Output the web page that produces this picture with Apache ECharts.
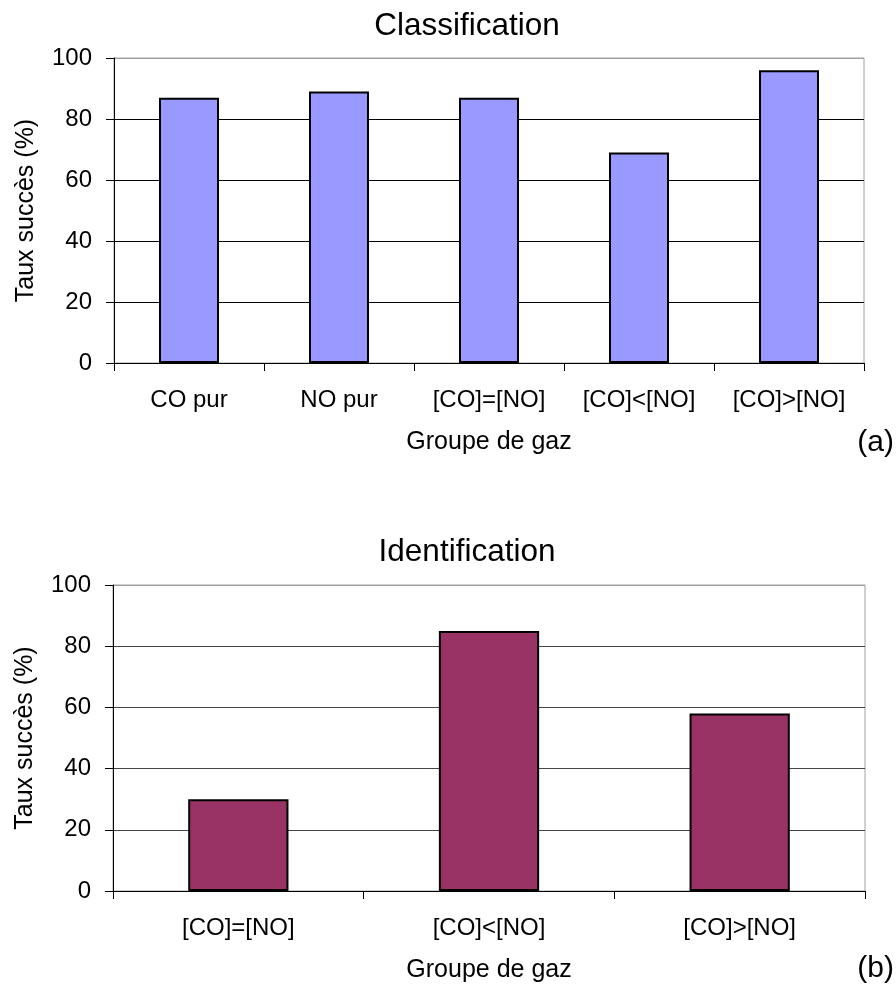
<!DOCTYPE html>
<html>
<head>
<meta charset="utf-8">
<script src="https://cdn.jsdelivr.net/npm/echarts@6/dist/echarts.min.js"></script>
<style>
html,body{margin:0;padding:0;background:#fff;}
#chart{width:896px;height:990px;}
</style>
</head>
<body>
<div id="chart"></div>
<script>
// Data
var categoriesA = ['CO pur', 'NO pur', '[CO]=[NO]', '[CO]<[NO]', '[CO]>[NO]'];
var valuesA = [87, 89, 87, 69, 96];
var categoriesB = ['[CO]=[NO]', '[CO]<[NO]', '[CO]>[NO]'];
var valuesB = [30, 85, 58];
var yTicks = [0, 20, 40, 60, 80, 100];
var titleA = 'Classification';
var titleB = 'Identification';
var xName = 'Groupe de gaz';
var yName = 'Taux succès (%)';

var FONT = '"Liberation Sans", Arial, sans-serif';
var chart = echarts.init(document.getElementById('chart'), null, {renderer: 'canvas'});

function yAxisCfg(gridIndex, gridColor) {
  return {
    type: 'value', gridIndex: gridIndex, min: yTicks[0], max: yTicks[yTicks.length - 1], interval: 20,
    name: yName, nameLocation: 'middle', nameGap: 75,
    nameTextStyle: {fontFamily: FONT, fontSize: 25, color: '#000'},
    axisLine: {show: true, lineStyle: {color: '#000', width: 1}},
    axisTick: {show: true, length: 8, lineStyle: {color: '#000'}},
    axisLabel: {fontFamily: FONT, fontSize: 24, color: '#000', margin: 22},
    splitLine: {show: true, lineStyle: {color: [gridColor, gridColor, gridColor, gridColor, gridColor, '#a0a0a0'], width: 1}}
  };
}
function xAxisCfg(gridIndex, cats) {
  return {
    type: 'category', gridIndex: gridIndex, data: cats,
    name: xName, nameLocation: 'middle', nameGap: 67,
    nameTextStyle: {fontFamily: FONT, fontSize: 25, color: '#000'},
    axisLine: {show: true, lineStyle: {color: '#000', width: 1}},
    axisTick: {show: true, length: 8, lineStyle: {color: '#000'}},
    axisLabel: {fontFamily: FONT, fontSize: 24, color: '#000', margin: 25, interval: 0}
  };
}

var option = {
  backgroundColor: '#fff',
  animation: false,
  title: [
    {text: titleA, left: 462, top: 5, textAlign: 'center',
     textStyle: {fontFamily: FONT, fontSize: 31.5, fontWeight: 'normal', color: '#000'}},
    {text: titleB, left: 462, top: 531, textAlign: 'center',
     textStyle: {fontFamily: FONT, fontSize: 31.5, fontWeight: 'normal', color: '#000'}}
  ],
  grid: [
    {left: 114, top: 58, width: 750, height: 305, show: true, borderColor: '#a0a0a0', borderWidth: 1, backgroundColor: '#fff'},
    {left: 113, top: 585, width: 752, height: 306, show: true, borderColor: '#a0a0a0', borderWidth: 1, backgroundColor: '#fff'}
  ],
  xAxis: [xAxisCfg(0, categoriesA), xAxisCfg(1, categoriesB)],
  yAxis: [yAxisCfg(0, '#000'), yAxisCfg(1, '#444')],
  graphic: [
    {type: 'text', right: 2, top: 428, style: {text: '(a)', font: '30px ' + FONT, fill: '#000'}},
    {type: 'text', right: 2, top: 954, style: {text: '(b)', font: '30px ' + FONT, fill: '#000'}}
  ],
  series: [
    {type: 'bar', xAxisIndex: 0, yAxisIndex: 0, data: valuesA, barCategoryGap: '60%',
     itemStyle: {color: '#9999FF', borderColor: '#000', borderWidth: 2}},
    {type: 'bar', xAxisIndex: 1, yAxisIndex: 1, data: valuesB, barCategoryGap: '60%',
     itemStyle: {color: '#993366', borderColor: '#000', borderWidth: 2}}
  ]
};
chart.setOption(option);
</script>
</body>
</html>
